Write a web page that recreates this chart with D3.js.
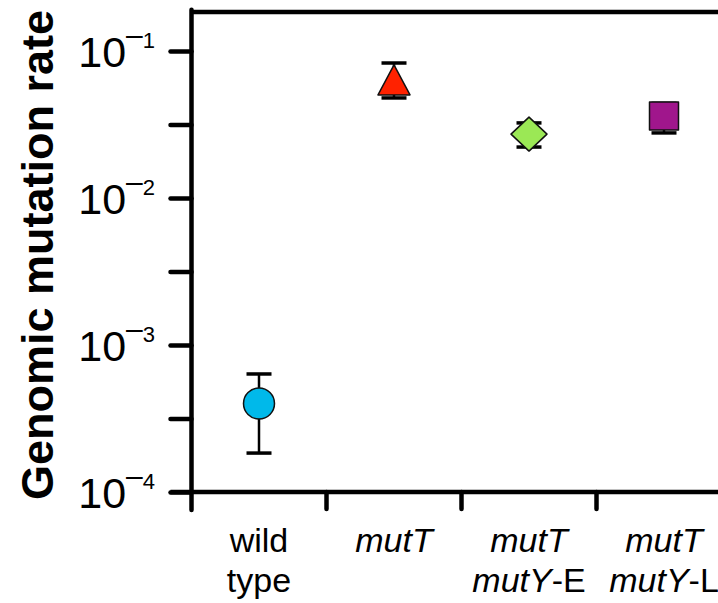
<!DOCTYPE html>
<html>
<head>
<meta charset="utf-8">
<script src="https://cdn.jsdelivr.net/npm/d3@7"></script>
<style>
  html, body { margin: 0; padding: 0; background: #fff; }
  svg { display: block; font-family: "Liberation Sans", Arial, sans-serif; }
</style>
</head>
<body>
<svg id="chart" width="718" height="603"></svg>
<script>
// Strains (two-line labels), mean genomic mutation rates and error bounds
const categories = ["wild type", "mutT", "mutT mutY-E", "mutT mutY-L"];
const labelLines = [
  [[{t: "wild", i: false}], [{t: "type", i: false}]],
  [[{t: "mutT", i: true}]],
  [[{t: "mutT", i: true}], [{t: "mutY", i: true}, {t: "-E", i: false}]],
  [[{t: "mutT", i: true}], [{t: "mutY", i: true}, {t: "-L", i: false}]]
];
const rates = [4.0e-4, 0.0635, 0.0272, 0.0361];
const upper = [6.35e-4, 0.0828, 0.0324, 0.0440];
const lower = [1.84e-4, 0.0479, 0.0222, 0.0277];
const markerShapes = ["circle", "triangle", "diamond", "square"];
const markerColors = ["#00b9ea", "#ff2200", "#9be855", "#a0168c"];
const decadeTicks = [-4, -3, -2, -1];
const halfDecadeTicks = [-3.5, -2.5, -1.5];

const svg = d3.select("#chart");
const x0 = 191.5, step = 135, yBottom = 492, yTop = 12;

const x = d3.scaleBand().domain(categories)
  .range([x0, x0 + step * categories.length]).padding(0);
const y = d3.scaleLog().domain([1e-4, Math.pow(10, -0.735)]).range([yBottom, yTop]);

// Frame: top border and left/bottom axes
const frameW = 4.5;
svg.append("line")
  .attr("x1", x0).attr("x2", 760).attr("y1", yTop).attr("y2", yTop)
  .attr("stroke", "#000").attr("stroke-width", frameW);

// Left axis with ticks every half decade
const allTicks = decadeTicks.concat(halfDecadeTicks).map(e => Math.pow(10, e));
const yAxis = d3.axisLeft(y).tickValues(allTicks).tickSize(21).tickFormat("");
const gy = svg.append("g").attr("transform", `translate(${x0},0)`).call(yAxis);
gy.select(".domain").remove();
gy.selectAll(".tick line").attr("stroke", "#000").attr("stroke-width", frameW)
  .attr("stroke-linecap", "round");
svg.append("line")
  .attr("x1", x0).attr("x2", x0).attr("y1", yTop - frameW / 2).attr("y2", 510)
  .attr("stroke", "#000").attr("stroke-width", frameW).attr("stroke-linecap", "round");

// Bottom axis with ticks at category boundaries
const xBounds = categories.map(c => x(c));
svg.append("line")
  .attr("x1", x0 - 21).attr("x2", 760).attr("y1", yBottom).attr("y2", yBottom)
  .attr("stroke", "#000").attr("stroke-width", frameW);
svg.append("g").selectAll("line").data(xBounds.slice(1)).join("line")
  .attr("x1", d => d).attr("x2", d => d).attr("y1", yBottom).attr("y2", 509)
  .attr("stroke", "#000").attr("stroke-width", frameW).attr("stroke-linecap", "round");

// Decade labels 10^n
const tickLabels = svg.append("g");
decadeTicks.forEach(e => {
  const yy = y(Math.pow(10, e));
  const t = tickLabels.append("text")
    .attr("x", 155).attr("y", yy + 16)
    .attr("text-anchor", "end").attr("fill", "#000");
  t.append("tspan").attr("font-size", 43).text("10");
  t.append("tspan").attr("font-size", 30).attr("dy", -22).text("\u2013");
  t.append("tspan").attr("font-size", 22).attr("dy", 3).text(String(-e));
});

// Axis title
svg.append("text")
  .attr("transform", "translate(53,255) rotate(-90)")
  .attr("text-anchor", "middle")
  .attr("font-size", 45).attr("font-weight", "bold").attr("fill", "#000")
  .text("Genomic mutation rate");

// Category labels
const catLabels = svg.append("g");
categories.forEach((c, i) => {
  const cx = x(c) + x.bandwidth() / 2;
  labelLines[i].forEach((line, li) => {
    const t = catLabels.append("text")
      .attr("x", cx).attr("y", 552 + li * 40)
      .attr("text-anchor", "middle").attr("font-size", 34).attr("fill", "#000");
    line.forEach(seg => t.append("tspan")
      .attr("font-style", seg.i ? "italic" : "normal").text(seg.t));
  });
});

// Error bars
const capHalf = 12.5;
const eb = svg.append("g").attr("stroke", "#000");
categories.forEach((c, i) => {
  const cx = x(c) + x.bandwidth() / 2;
  eb.append("line").attr("x1", cx).attr("x2", cx)
    .attr("y1", y(upper[i])).attr("y2", y(lower[i])).attr("stroke-width", 2.5);
  [upper[i], lower[i]].forEach(v => eb.append("line")
    .attr("x1", cx - capHalf).attr("x2", cx + capHalf)
    .attr("y1", y(v)).attr("y2", y(v)).attr("stroke-width", 3.5));
});

// Point markers
const shapePath = {
  triangle: "M0,-15 L16,15 L-16,15 Z",
  diamond: "M0,-17 L18,0 L0,17 L-18,0 Z",
  square: "M-14.5,-14 L14.5,-14 L14.5,14 L-14.5,14 Z"
};
const mk = svg.append("g");
categories.forEach((c, i) => {
  const cx = x(c) + x.bandwidth() / 2, cy = y(rates[i]);
  const shape = markerShapes[i];
  if (shape === "circle") {
    mk.append("circle").attr("cx", cx).attr("cy", cy).attr("r", 15.5)
      .attr("fill", markerColors[i]).attr("stroke", "#111").attr("stroke-width", 1.5);
  } else {
    mk.append("path").attr("d", shapePath[shape])
      .attr("transform", `translate(${cx},${cy})`)
      .attr("fill", markerColors[i]).attr("stroke", "#111").attr("stroke-width", 1.5)
      .attr("stroke-linejoin", "round");
  }
});
</script>
</body>
</html>
